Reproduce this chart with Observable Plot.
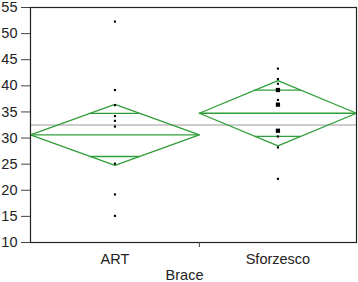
<!DOCTYPE html>
<html>
<head>
<meta charset="utf-8">
<script src="https://cdn.jsdelivr.net/npm/d3@7"></script>
<script src="https://cdn.jsdelivr.net/npm/@observablehq/plot@0.6"></script>
<style>
  html, body { margin: 0; padding: 0; background: #fff; }
  svg { display: block; }
</style>
</head>
<body>
<div id="chart"></div>
<script>
// Categories and their relative widths (proportional to group size)
const categories = ["ART", "Sforzesco"];
const groupWeight = [0.518, 0.482];
// Group means and 95% CI half widths
const groupMean = [30.6, 34.75];
const ciHalf = [5.85, 6.25];
const grandMean = 32.5;
// Observations
const artValues = [52.3, 39.2, 36.3, 34.2, 33.3, 32.2, 25.1, 19.2, 15.1];
const artCounts = [1, 1, 1, 1, 1, 1, 1, 1, 1];
const sfzValues = [43.3, 41.3, 40.4, 39.2, 37.3, 36.4, 31.4, 30.3, 28.2, 22.2];
const sfzCounts = [1, 1, 1, 2, 1, 2, 2, 1, 1, 1];
const yTicks = [10, 15, 20, 25, 30, 35, 40, 45, 50, 55];

const green = "#2f9e3a";

// Build group geometry from weights
let acc = 0;
const groups = categories.map((c, i) => {
  const x0 = acc; acc += groupWeight[i];
  return {cat: c, x0, x1: acc, xc: (x0 + acc) / 2, mean: groupMean[i], ci: ciHalf[i]};
});

const diamond = groups.flatMap((g, i) => [
  {x: g.x0, y: g.mean, g: i},
  {x: g.xc, y: g.mean + g.ci, g: i},
  {x: g.x1, y: g.mean, g: i},
  {x: g.xc, y: g.mean - g.ci, g: i},
  {x: g.x0, y: g.mean, g: i}
]);
const meanLines = groups.map(g => ({x1: g.x0, x2: g.x1, y: g.mean}));
const overlap = groups.flatMap(g => {
  const h = g.ci / Math.SQRT2;
  const f = 1 - h / g.ci;
  const hw = (g.x1 - g.x0) / 2 * f;
  return [
    {x1: g.xc - hw, x2: g.xc + hw, y: g.mean + h},
    {x1: g.xc - hw, x2: g.xc + hw, y: g.mean - h}
  ];
});
const points = [
  ...artValues.map((v, i) => ({x: groups[0].xc, y: v, n: artCounts[i]})),
  ...sfzValues.map((v, i) => ({x: groups[1].xc, y: v, n: sfzCounts[i]}))
];
const single = points.filter(d => d.n === 1);
const multi = points.filter(d => d.n > 1);

const fs = 14.5;
const chart = Plot.plot({
  width: 358,
  height: 282,
  marginLeft: 30,
  marginRight: 2,
  marginTop: 7,
  marginBottom: 40,
  style: {fontFamily: "'Liberation Sans', Arial, sans-serif", fontSize: fs + "px", color: "#222", background: "#fff"},
  x: {domain: [0, 1], axis: null},
  y: {domain: [10, 55], axis: null},
  marks: [
    Plot.ruleY([grandMean], {stroke: "#9a9a9a", strokeWidth: 1.2}),
    Plot.line(diamond, {x: "x", y: "y", z: "g", stroke: green, strokeWidth: 1.3}),
    Plot.ruleY(meanLines, {x1: "x1", x2: "x2", y: "y", stroke: green, strokeWidth: 1.3}),
    Plot.ruleY(overlap, {x1: "x1", x2: "x2", y: "y", stroke: green, strokeWidth: 1.3}),
    Plot.dot(single, {x: "x", y: "y", symbol: "square", fill: "#000", stroke: null, r: 1.2}),
    Plot.dot(multi, {x: "x", y: "y", symbol: "square", fill: "#000", stroke: null, r: 2.4}),
    Plot.frame({stroke: "#222", strokeWidth: 1.2}),
    Plot.axisY(yTicks, {tickSize: 9, tickPadding: 4, stroke: "#444", fill: "#222", label: null, fontSize: fs}),
    Plot.axisX([groups[0].x1], {tickSize: 5, tickFormat: () => "", stroke: "#444", label: null}),
    Plot.axisX(groups.map(g => g.xc), {tickSize: 0, tickPadding: 11, tickFormat: (d, i) => categories[i], fill: "#222", label: null, fontSize: fs}),
    Plot.text(["Brace"], {frameAnchor: "bottom", dy: 37, dx: -9, text: d => d, x: 0.5, fill: "#222", fontSize: fs})
  ]
});
document.getElementById("chart").append(chart);
</script>
</body>
</html>
